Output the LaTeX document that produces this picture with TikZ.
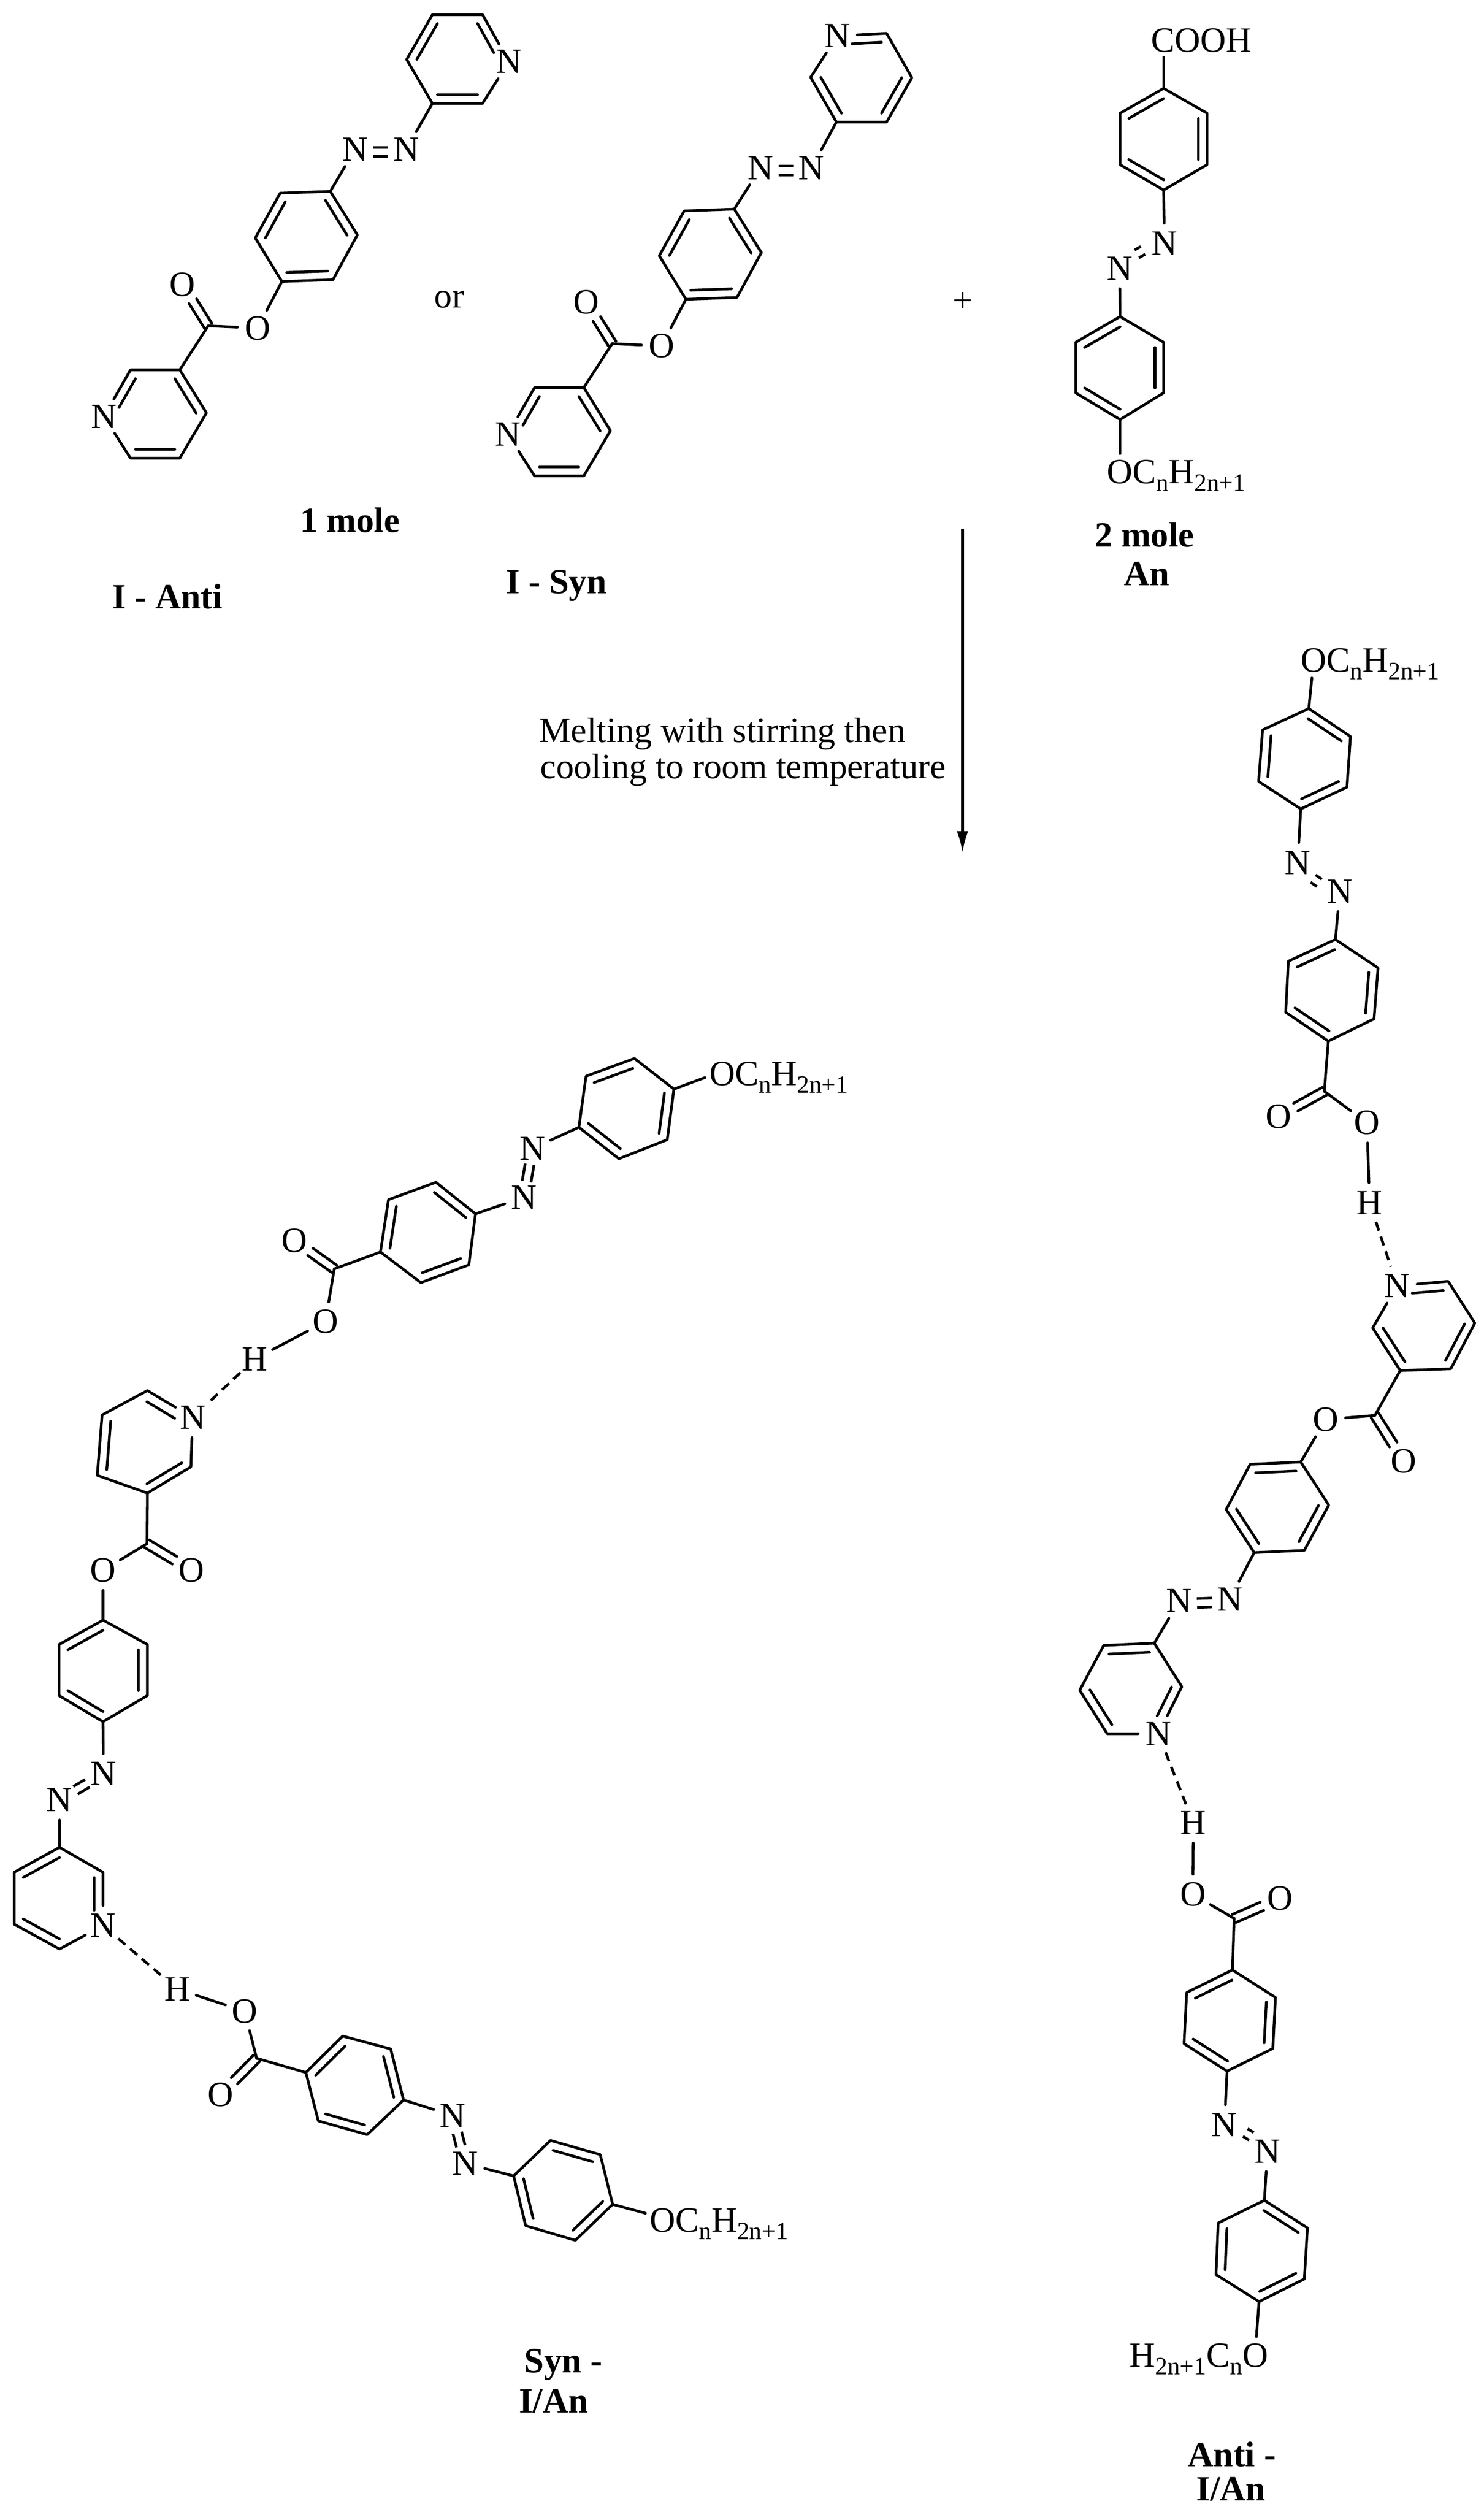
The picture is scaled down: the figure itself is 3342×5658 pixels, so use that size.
\documentclass[tikz,border=0pt]{standalone}
\usepackage{fontspec}
\setmainfont{Liberation Serif}
\usetikzlibrary{calc,arrows.meta}
\tikzset{
  bond/.style={line width=6pt,line cap=round,line join=round,black},
  hbond/.style={line width=6pt,dash pattern=on 21pt off 14pt,black},
  atom/.style={circle,inner sep=0pt,minimum size=90pt,font=\fontsize{80}{90}\selectfont},
  txt/.style={inner sep=0pt,font=\fontsize{80}{90}\selectfont},
  boldtxt/.style={inner sep=0pt,font=\fontsize{80}{90}\selectfont\bfseries},
}
\newcommand\subt[1]{\raisebox{-17pt}{\fontsize{56}{56}\selectfont #1}}
\newcommand\setring[7]{%
  \coordinate (#1a) at (#2);\coordinate (#1b) at (#3);\coordinate (#1c) at (#4);
  \coordinate (#1d) at (#5);\coordinate (#1e) at (#6);\coordinate (#1f) at (#7);
  \coordinate (#1o) at ($(#1a)!.5!(#1d)$);}
\newcommand\ringdraw[1]{\draw[bond] (#1a)--(#1b)--(#1c)--(#1d)--(#1e)--(#1f)--(#1a);}
\newcommand\dbl[4][]{\draw[bond,#1] ($(#2#3)!.2!(#2o)$) -- ($(#2#4)!.2!(#2o)$);}
% azo double bond: #1 sideways shift of the pair, #2 shorten at each end, #3 and #4 the atoms
\newcommand\twin[4][0]{%
  \pgfmathsetmacro\twinp{#1+10}\pgfmathsetmacro\twinm{#1-10}%
  \draw[bond,line cap=butt,shorten >=#2,shorten <=#2] ($(#3)!\twinp pt!90:(#4)$) -- ($(#4)!\twinp pt!-90:(#3)$);
  \draw[bond,line cap=butt,shorten >=#2,shorten <=#2] ($(#3)!\twinm pt!90:(#4)$) -- ($(#4)!\twinm pt!-90:(#3)$);}
\newcommand\cdo[2]{%
  \draw[bond,shorten >=44pt] ($(#1)!10pt!90:(#2)$) -- ($(#2)!10pt!-90:(#1)$);
  \draw[bond,shorten >=44pt] ($(#1)!10pt!-90:(#2)$) -- ($(#2)!10pt!90:(#1)$);}
\begin{document}
\begin{tikzpicture}[x=1pt,y=-1pt]
\useasboundingbox (0,0) rectangle (3342,5658);

% ===== I - Anti =====
\setring{Ap}{974,33}{1087,33}{1146,139}{1087,233}{974,233}{916,134}
\node[atom] (Apc) at (Apc) {N};
\ringdraw{Ap}
\dbl{Ap}{a}{f}\dbl[shorten >=22pt]{Ap}{b}{c}\dbl{Ap}{d}{e}
\node[atom] (An1) at (800,336) {N};
\node[atom] (An2) at (915,336) {N};
\draw[bond] (Ape)--(An2);
\twin[-6]{41pt}{An1}{An2}
\setring{Aq}{744,431}{631,435}{575,536}{635,634}{750,630}{805,529}
\ringdraw{Aq}
\dbl{Aq}{b}{c}\dbl{Aq}{a}{f}\dbl{Aq}{d}{e}
\draw[bond] (An1)--(Aqa);
\node[atom] (Aos) at (580,739) {O};
\coordinate (Acc) at (469,734);
\node[atom] (Aod) at (411,641) {O};
\draw[bond] (Aqd)--(Aos);
\draw[bond] (Aos)--(Acc);
\cdo{Acc}{Aod}
\setring{Ar}{405,833}{294,833}{234,938}{294,1032}{405,1032}{465,930}
\node[atom] (Arc) at (Arc) {N};
\ringdraw{Ar}
\dbl[shorten >=22pt]{Ar}{b}{c}\dbl{Ar}{a}{f}\dbl{Ar}{d}{e}
\draw[bond] (Acc)--(Ara);

% ===== I - Syn =====
\setring{Bp}{1884,275}{1997,275}{2054,175}{1997,75}{1886,81}{1826,174}
\node[atom] (Bpe) at (Bpe) {N};
\ringdraw{Bp}
\dbl{Bp}{a}{f}\dbl{Bp}{b}{c}\dbl[shorten >=22pt]{Bp}{d}{e}
\node[atom] (Bn1) at (1713,378) {N};
\node[atom] (Bn2) at (1828,378) {N};
\draw[bond] (Bpa)--(Bn2);
\twin[-6]{41pt}{Bn1}{Bn2}
\setring{Bq}{1654,471}{1541,475}{1485,576}{1545,674}{1660,670}{1715,569}
\ringdraw{Bq}
\dbl{Bq}{b}{c}\dbl{Bq}{a}{f}\dbl{Bq}{d}{e}
\draw[bond] (Bn1)--(Bqa);
\node[atom] (Bos) at (1490,779) {O};
\coordinate (Bcc) at (1379,774);
\node[atom] (Bod) at (1321,681) {O};
\draw[bond] (Bqd)--(Bos);
\draw[bond] (Bos)--(Bcc);
\cdo{Bcc}{Bod}
\setring{Br}{1315,873}{1204,873}{1144,978}{1204,1072}{1315,1072}{1375,970}
\node[atom] (Brc) at (Brc) {N};
\ringdraw{Br}
\dbl[shorten >=22pt]{Br}{b}{c}\dbl{Br}{a}{f}\dbl{Br}{d}{e}
\draw[bond] (Bcc)--(Bra);

% ===== An =====
\node[txt] (Ccooh) at (2706,91) {COOH};
\coordinate (Ccoohb) at (2621,129);
\setring{Cp}{2621,199}{2719,255}{2719,371}{2621,428}{2523,371}{2523,255}
\ringdraw{Cp}
\dbl{Cp}{a}{f}\dbl{Cp}{b}{c}\dbl{Cp}{d}{e}
\draw[bond] (Ccoohb)--(Cpa);
\node[atom] (Cn1) at (2623,548) {N};
\node[atom] (Cn2) at (2522,605) {N};
\draw[bond] (Cpd)--(Cn1);
\twin[-10]{50pt}{Cn1}{Cn2}
\setring{Cq}{2523,713}{2621,771}{2621,885}{2523,945}{2423,885}{2423,771}
\ringdraw{Cq}
\dbl{Cq}{a}{f}\dbl{Cq}{b}{c}\dbl{Cq}{d}{e}
\draw[bond] (Cn2)--(Cqa);
\node[txt,anchor=base west] (Clab) at (2493,1089) {OC\subt{n}H\subt{2n+1}};
\coordinate (Clabb) at (2523,1022);
\draw[bond] (Cqd)--(Clabb);

% ===== plain labels =====
\node[txt] (torr) at (1012,675) {or};
\node[txt] (tplus) at (2169,681) {+};
\node[boldtxt] (t1mole) at (788,1172) {1 mole};
\node[boldtxt] (t2mole) at (2578,1204) {2 mole};
\node[boldtxt] (tan) at (2583,1292) {An};
\node[boldtxt] (tianti) at (377,1343) {I - Anti};
\node[boldtxt] (tisyn) at (1253,1319) {I - Syn};
\node[txt,anchor=base west] (tmelt) at (1215,1672) {Melting with stirring then};
\node[txt,anchor=base west] (tcool) at (1217,1753) {cooling to room temperature};
\coordinate (arrs) at (2168,1191);
\coordinate (arre) at (2168,1921);
\draw[bond,line cap=butt,-{Latex[length=49pt,width=26pt]}] (arrs)--(arre);
\node[boldtxt] (tsyn) at (1269,5326) {Syn -};
\node[boldtxt] (tsyn2) at (1247,5408) {I/An};
\node[boldtxt] (tanti) at (2775,5528) {Anti -};
\node[boldtxt] (tanti2) at (2773,5607) {I/An};

% ===== Syn - I/An =====
\node[txt,anchor=base west] (Llab1) at (1598,2445) {OC\subt{n}H\subt{2n+1}};
\coordinate (Llab1b) at (1588,2427);
\setring{La}{1518,2453}{1429,2384}{1320,2424}{1304,2539}{1394,2610}{1503,2567}
\ringdraw{La}
\dbl{La}{b}{c}\dbl{La}{f}{a}\dbl{La}{d}{e}
\draw[bond] (Llab1b)--(Laa);
\node[atom] (Ln1) at (1199,2587) {N};
\node[atom] (Ln2) at (1180,2697) {N};
\draw[bond] (Lad)--(Ln1);
\twin{36pt}{Ln1}{Ln2}
\setring{Lb}{1071,2734}{982,2663}{875,2702}{857,2820}{948,2889}{1056,2849}
\ringdraw{Lb}
\dbl{Lb}{a}{b}\dbl{Lb}{c}{d}\dbl{Lb}{e}{f}
\draw[bond] (Ln2)--(Lba);
\coordinate (Lc1) at (753,2858);
\node[atom] (Lo1) at (663,2794) {O};
\node[atom] (Lo2) at (733,2977) {O};
\node[atom] (Lh1) at (574,3061) {H};
\draw[bond] (Lbd)--(Lc1);
\cdo{Lc1}{Lo1}
\draw[bond] (Lc1)--(Lo2);
\draw[bond] (Lo2)--(Lh1);
\setring{Lc}{434,3193}{332,3132}{230,3187}{219,3323}{332,3363}{430,3304}
\node[atom] (Lca) at (Lca) {N};
\ringdraw{Lc}
\dbl[shorten <=22pt]{Lc}{a}{b}\dbl{Lc}{c}{d}\dbl{Lc}{e}{f}
\draw[hbond] (Lh1)--(Lca);
\coordinate (Lc2) at (331,3477);
\node[atom] (Lo3) at (431,3537) {O};
\node[atom] (Lo4) at (232,3537) {O};
\draw[bond] (Lce)--(Lc2);
\cdo{Lc2}{Lo3}
\draw[bond] (Lc2)--(Lo4);
\setring{Ld}{232,3649}{332,3704}{332,3819}{232,3878}{133,3819}{133,3704}
\ringdraw{Ld}
\dbl{Ld}{a}{f}\dbl{Ld}{b}{c}\dbl{Ld}{d}{e}
\draw[bond] (Lo4)--(Lda);
\node[atom] (Ln3) at (233,3995) {N};
\node[atom] (Ln4) at (134,4054) {N};
\draw[bond] (Ldd)--(Ln3);
\twin{42pt}{Ln3}{Ln4}
\setring{Le}{134,4161}{232,4217}{232,4337}{134,4390}{32,4334}{32,4217}
\node[atom] (Lec) at (Lec) {N};
\ringdraw{Le}
\dbl[shorten >=22pt]{Le}{b}{c}\dbl{Le}{a}{f}\dbl{Le}{d}{e}
\draw[bond] (Ln4)--(Lea);
\node[atom] (Lh2) at (399,4480) {H};
\node[atom] (Lo5) at (551,4530) {O};
\coordinate (Lc3) at (578,4636);
\node[atom] (Lo6) at (497,4718) {O};
\draw[hbond] (Lec)--(Lh2);
\draw[bond] (Lh2)--(Lo5);
\draw[bond] (Lo5)--(Lc3);
\cdo{Lc3}{Lo6}
\setring{Lf}{689,4668}{772,4586}{880,4615}{909,4730}{827,4808}{717,4777}
\ringdraw{Lf}
\dbl{Lf}{a}{b}\dbl{Lf}{c}{d}\dbl{Lf}{e}{f}
\draw[bond] (Lc3)--(Lfa);
\node[atom] (Ln5) at (1020,4765) {N};
\node[atom] (Ln6) at (1048,4873) {N};
\draw[bond] (Lfd)--(Ln5);
\twin{40pt}{Ln5}{Ln6}
\setring{Lg}{1157,4901}{1240,4821}{1352,4853}{1380,4965}{1296,5046}{1184,5013}
\ringdraw{Lg}
\dbl{Lg}{b}{c}\dbl{Lg}{d}{e}\dbl{Lg}{f}{a}
\draw[bond] (Ln6)--(Lga);
\node[txt,anchor=base west] (Llab2) at (1463,5027) {OC\subt{n}H\subt{2n+1}};
\coordinate (Llab2b) at (1454,4985);
\draw[bond] (Lgd)--(Llab2b);

% ===== Anti - I/An =====
\node[txt,anchor=base west] (Rlab1) at (2930,1513) {OC\subt{n}H\subt{2n+1}};
\coordinate (Rlab1b) at (2955,1527);
\setring{Ra}{2948,1596}{3042,1659}{3034,1773}{2930,1822}{2835,1760}{2844,1644}
\ringdraw{Ra}
\dbl{Ra}{a}{b}\dbl{Ra}{c}{d}\dbl{Ra}{e}{f}
\draw[bond] (Rlab1b)--(Raa);
\node[atom] (Rn1) at (2923,1943) {N};
\node[atom] (Rn2) at (3018,2008) {N};
\draw[bond] (Rad)--(Rn1);
\twin[-10]{49pt}{Rn1}{Rn2}
\setring{Rb}{3008,2116}{3104,2180}{3095,2295}{2992,2345}{2896,2280}{2902,2165}
\ringdraw{Rb}
\dbl{Rb}{a}{f}\dbl{Rb}{b}{c}\dbl{Rb}{d}{e}
\draw[bond] (Rn2)--(Rba);
\coordinate (Rc1) at (2983,2458);
\node[atom] (Ro1) at (2880,2515) {O};
\node[atom] (Ro2) at (3079,2529) {O};
\node[atom] (Rh1) at (3085,2709) {H};
\draw[bond] (Rbd)--(Rc1);
\cdo{Rc1}{Ro1}
\draw[bond] (Rc1)--(Ro2);
\draw[bond] (Ro2)--(Rh1);
\setring{Rc}{3147,2896}{3262,2886}{3322,2980}{3268,3083}{3154,3087}{3092,2991}
\node[atom] (Rca) at (Rca) {N};
\ringdraw{Rc}
\dbl[shorten <=22pt]{Rc}{a}{b}\dbl{Rc}{c}{d}\dbl{Rc}{e}{f}
\draw[hbond] (Rh1)--(Rca);
\coordinate (Rc2) at (3097,3188);
\node[atom] (Ro3) at (3162,3291) {O};
\node[atom] (Ro4) at (2986,3197) {O};
\draw[bond] (Rce)--(Rc2);
\cdo{Rc2}{Ro3}
\draw[bond] (Rc2)--(Ro4);
\setring{Rd}{2930,3293}{2993,3390}{2938,3492}{2825,3497}{2762,3400}{2816,3298}
\ringdraw{Rd}
\dbl{Rd}{a}{f}\dbl{Rd}{b}{c}\dbl{Rd}{d}{e}
\draw[bond] (Ro4)--(Rda);
\node[atom] (Rn3) at (2770,3602) {N};
\node[atom] (Rn4) at (2656,3606) {N};
\draw[bond] (Rdd)--(Rn3);
\twin[6]{40pt}{Rn3}{Rn4}
\setring{Re}{2600,3701}{2662,3799}{2609,3905}{2494,3905}{2432,3807}{2486,3706}
\node[atom] (Rec) at (Rec) {N};
\ringdraw{Re}
\dbl{Re}{a}{f}\dbl[shorten >=22pt]{Re}{b}{c}\dbl{Re}{d}{e}
\draw[bond] (Rn4)--(Rea);
\node[atom] (Rh2) at (2688,4106) {H};
\node[atom] (Ro5) at (2687,4267) {O};
\coordinate (Rc3) at (2780,4321);
\node[atom] (Ro6) at (2883,4276) {O};
\draw[hbond] (Rec)--(Rh2);
\draw[bond] (Rh2)--(Ro5);
\draw[bond] (Ro5)--(Rc3);
\cdo{Rc3}{Ro6}
\setring{Rf}{2776,4437}{2873,4499}{2867,4614}{2764,4665}{2667,4603}{2673,4488}
\ringdraw{Rf}
\dbl{Rf}{a}{f}\dbl{Rf}{b}{c}\dbl{Rf}{d}{e}
\draw[bond] (Rc3)--(Rfa);
\node[atom] (Rn5) at (2758,4786) {N};
\node[atom] (Rn6) at (2855,4846) {N};
\draw[bond] (Rfd)--(Rn5);
\twin[10]{49pt}{Rn5}{Rn6}
\setring{Rg}{2848,4956}{2945,5018}{2938,5133}{2836,5184}{2739,5123}{2744,5007}
\ringdraw{Rg}
\dbl{Rg}{a}{b}\dbl{Rg}{c}{d}\dbl{Rg}{e}{f}
\draw[bond] (Rn6)--(Rga);
\node[txt,anchor=base east] (Rlab2) at (2857,5332) {H\subt{2n+1}C\subt{n}O};
\coordinate (Rlab2b) at (2830,5263);
\draw[bond] (Rgd)--(Rlab2b);
\end{tikzpicture}
\end{document}
